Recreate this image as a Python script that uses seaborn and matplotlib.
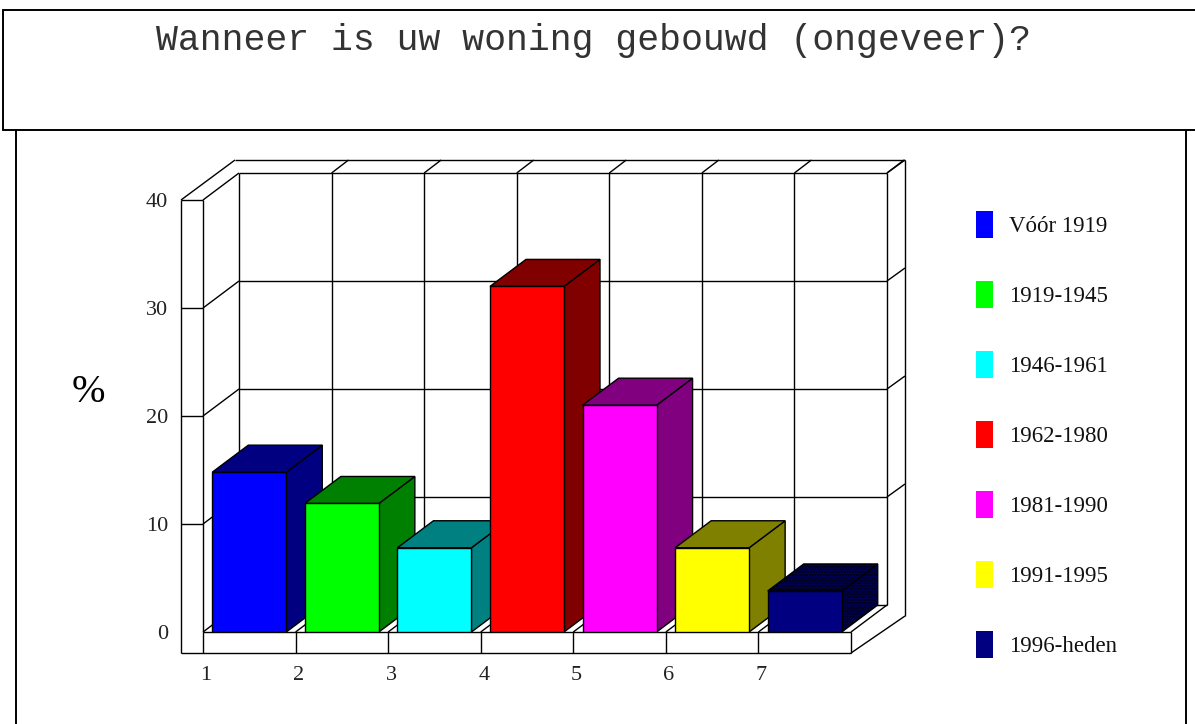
import matplotlib
matplotlib.use("Agg")
import matplotlib.pyplot as plt
from matplotlib.lines import Line2D
from matplotlib.patches import Patch
import pandas as pd
import seaborn as sns

title = "Wanneer is uw woning gebouwd (ongeveer)?"
periods = ["Vóór 1919", "1919-1945", "1946-1961", "1962-1980",
           "1981-1990", "1991-1995", "1996-heden"]
percent = [14.8, 11.9, 7.8, 32, 21, 7.8, 3.8]
front_colors = ["#0000ff", "#00ff00", "#00ffff", "#ff0000",
                "#ff00ff", "#ffff00", "#000080"]
side_colors = ["#000080", "#008000", "#008080", "#800000",
               "#800080", "#808000", "#000058"]
x_labels = ["1", "2", "3", "4", "5", "6", "7"]
y_ticks = [0, 10, 20, 30, 40]

W, H = 1195, 724
# size of one category / one percent on screen
PX_X = 92.57
PX_Y = 10.8

sns.set_theme(style="white")
plt.rcParams["font.family"] = ["Liberation Serif", "DejaVu Sans"]

fig = plt.figure(figsize=(W / 100, H / 100), dpi=100, facecolor="white")
ax = fig.add_axes([203 / W, 1 - 632 / H, 648 / W, 432 / H])
ax.patch.set_alpha(0)

df = pd.DataFrame({"period": periods, "percent": percent})
sns.barplot(data=df, x="period", y="percent", hue="period", palette=front_colors,
            width=74 / PX_X, edgecolor="black", linewidth=1.0, saturation=1,
            legend=False, ax=ax)
ax.set_xlim(-0.5, 6.5)
ax.set_ylim(0, 40)
sns.despine(ax=ax, left=True, bottom=True)

# depth of the fake 3d box
dx = 36 / PX_X
dy = 27 / PX_Y
wall_x = 22 / PX_X
wall_y = 21 / PX_Y
out_x = 54 / PX_X
out_y = 40 / PX_Y
left, right = -0.5, 6.5
top = 40


def line(xs, ys, lw=1.0):
    ax.plot(xs, ys, color="black", lw=lw, clip_on=False, zorder=1,
            solid_capstyle="butt")


# back wall
for i in range(8):
    line([left + i + dx] * 2, [dy, top + dy])
    if i > 0:
        line([left + i + dx, left + i + dx + 17 / PX_X], [top + dy, top + out_y])
    line([left + i, left + i + dx], [0, dy])
    line([left + i] * 2, [-wall_y, 0])
for v in y_ticks:
    line([left + dx, right + dx], [v + dy, v + dy])
    if v > 0:
        line([right + dx, right + out_x], [v + dy, v + dy + 13 / PX_Y])
        line([left, left + dx], [v, v + dy])
        line([left - wall_x, left], [v, v])

# outer frame
line([left - wall_x, left - wall_x], [-wall_y, top])
line([left, left], [0, top])
line([left - wall_x, right], [-wall_y, -wall_y])
line([left, right], [0, 0])
line([left - wall_x, left - wall_x + out_x], [top, top + out_y])
line([left - wall_x + out_x, right + out_x], [top + out_y, top + out_y])
line([right + out_x, right + out_x], [-wall_y + 37 / PX_Y, top + out_y])
line([right, right + out_x], [-wall_y, -wall_y + 37 / PX_Y])

# top and side of each bar, left to right so the next bar covers the last
for i, bar in enumerate(ax.patches):
    x0, x1 = bar.get_x(), bar.get_x() + bar.get_width()
    h = bar.get_height()
    z = 3 + i
    bar.set_zorder(z + 0.5)
    hatch = "......" if i == 6 else None
    ax.fill([x1, x1 + dx, x1 + dx, x1], [0, dy, h + dy, h], facecolor=side_colors[i],
            edgecolor="black", lw=1.0, clip_on=False, zorder=z, hatch=hatch)
    ax.fill([x0, x0 + dx, x1 + dx, x1], [h, h + dy, h + dy, h], facecolor=side_colors[i],
            edgecolor="black", lw=1.0, clip_on=False, zorder=z, hatch=hatch)

ax.set_xticks([i - 0.5 + 3 / PX_X for i in range(7)], x_labels)
ax.set_yticks(y_ticks)
ax.tick_params(axis="x", length=0, pad=24.5, labelsize=16, colors="#222222")
ax.tick_params(axis="y", length=0, pad=25, labelsize=16, colors="#222222")
ax.set_xlabel("")
ax.set_ylabel("%", rotation=0, fontsize=29, color="black", va="center", ha="center")
ax.yaxis.set_label_coords((88 - 203) / 648, (632 - 393) / 432)

handles = [Patch(facecolor=c, edgecolor="none", label=p)
           for c, p in zip(front_colors, periods)]
fig.legend(handles=handles, loc="upper left", bbox_to_anchor=(976 / W, 1 - 211 / H),
           frameon=False, fontsize=16.5, borderpad=0, borderaxespad=0,
           handlelength=17 / 23, handleheight=1.43, handletextpad=16 / 23,
           labelspacing=43.2 / 23, labelcolor="#111111")

fig.text(593 / W, 1 - 40 / H, title, family="Liberation Mono", fontsize=26.3,
         ha="center", va="center", color="#333333")

# page boxes around the chart
for xs, ys in [((3, 3), (10, 130)), ((3, W), (10, 10)), ((3, W), (130, 130)),
               ((16, 16), (130, H)), ((1186, 1186), (130, H))]:
    fig.add_artist(Line2D([x / W for x in xs], [1 - y / H for y in ys],
                          color="black", lw=1.4))

fig.savefig("out.png", dpi=100)
